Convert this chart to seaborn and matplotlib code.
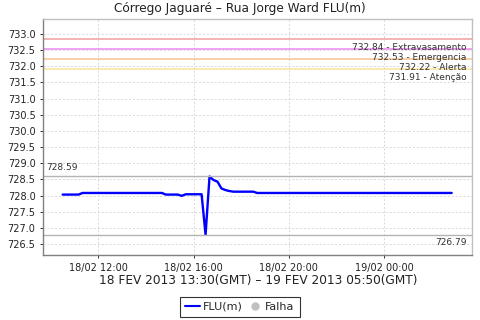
import matplotlib
matplotlib.use("Agg")
import matplotlib.pyplot as plt
from matplotlib.lines import Line2D
import pandas as pd
import seaborn as sns

# ---- data ----
start_time = "2013-02-18 10:30"
end_time = "2013-02-19 02:50"
flu_values = [
    728.03, 728.03, 728.03, 728.03, 728.03,
    728.08, 728.08, 728.08, 728.08, 728.08, 728.08, 728.08, 728.08, 728.08, 728.08,
    728.08, 728.08, 728.08, 728.08, 728.08, 728.08, 728.08, 728.08, 728.08, 728.08,
    728.08,
    728.03, 728.03, 728.03, 728.03,
    727.99,
    728.04, 728.04, 728.04, 728.04, 728.04,
    726.79,
    728.59,
    728.48, 728.43, 728.22, 728.17, 728.14, 728.12,
    728.12, 728.12, 728.12, 728.12, 728.12,
    728.08, 728.08, 728.08, 728.08, 728.08, 728.08, 728.08, 728.08, 728.08, 728.08,
    728.08, 728.08, 728.08, 728.08, 728.08, 728.08, 728.08, 728.08, 728.08, 728.08,
    728.08, 728.08, 728.08, 728.08, 728.08, 728.08, 728.08, 728.08, 728.08, 728.08,
    728.08, 728.08, 728.08, 728.08, 728.08, 728.08, 728.08, 728.08, 728.08, 728.08,
    728.08, 728.08, 728.08, 728.08, 728.08, 728.08, 728.08, 728.08, 728.08, 728.08,
]
threshold_values = [732.84, 732.53, 732.22, 731.91]
threshold_names = ["Extravasamento", "Emergencia", "Alerta", "Atenção"]
threshold_colors = ["#f39c9c", "#ee88f0", "#f7c48e", "#fbe39b"]
max_value = 728.59
min_value = 726.79
x_ticks = ["2013-02-18 12:00", "2013-02-18 16:00", "2013-02-18 20:00", "2013-02-19 00:00"]
x_tick_labels = ["18/02 12:00", "18/02 16:00", "18/02 20:00", "19/02 00:00"]
title = "Córrego Jaguaré – Rua Jorge Ward FLU(m)"
xlabel = "18 FEV 2013 13:30(GMT) – 19 FEV 2013 05:50(GMT)"

times = pd.date_range(start_time, end_time, freq="10min")
df = pd.DataFrame({"time": times, "FLU(m)": flu_values})

sns.set_style("white")
plt.rcParams["font.family"] = ["DejaVu Sans"]

fig = plt.figure(figsize=(4.8, 3.2), dpi=100)
ax = fig.add_axes([0.090, 0.203, 0.894, 0.737])

sns.lineplot(data=df, x="time", y="FLU(m)", ax=ax, color="#0000ff", linewidth=1.7)

ax.set_xlim(pd.Timestamp("2013-02-18 09:41"), pd.Timestamp("2013-02-19 03:42"))
ax.set_ylim(726.16, 733.455)
ax.set_yticks([726.5 + 0.5 * i for i in range(14)])
ax.set_yticklabels([f"{726.5 + 0.5 * i:.1f}" for i in range(14)])
ax.set_xticks([pd.Timestamp(t) for t in x_ticks])
ax.set_xticklabels(x_tick_labels)

ax.grid(True, color="#d8d8d8", linestyle=(0, (2, 2)), linewidth=0.7)
ax.set_axisbelow(True)

for v, n, c in zip(threshold_values, threshold_names, threshold_colors):
    ax.axhline(v, color=c, linewidth=1.1)
    ax.annotate(f"{v:.2f} - {n}", xy=(1, v), xycoords=("axes fraction", "data"),
                xytext=(-4, -2.8), textcoords="offset points", ha="right", va="top",
                fontsize=6.5, color="#333333")

ax.axhline(max_value, color="#b4b4b4", linewidth=1.0)
ax.axhline(min_value, color="#b4b4b4", linewidth=1.0)
ax.annotate(f"{max_value:.2f}", xy=(0, max_value), xycoords=("axes fraction", "data"),
            xytext=(2, 3), textcoords="offset points", ha="left", va="bottom",
            fontsize=6.5, color="#333333")
ax.annotate(f"{min_value:.2f}", xy=(1, min_value), xycoords=("axes fraction", "data"),
            xytext=(-4, -2.5), textcoords="offset points", ha="right", va="top",
            fontsize=6.5, color="#333333")

for s in ["left", "bottom"]:
    ax.spines[s].set_color("#808080")
    ax.spines[s].set_linewidth(1.0)
for s in ["top", "right"]:
    ax.spines[s].set_color("#c0c0c0")
    ax.spines[s].set_linewidth(1.0)

ax.tick_params(axis="both", labelsize=7, colors="#333333", length=2, width=0.7, direction="out",
               left=True, bottom=True)
ax.tick_params(axis="both", labelcolor="#222222")
ax.set_xlabel(xlabel, fontsize=8.7, color="#222222", labelpad=1)
ax.set_ylabel("")
fig.text(0.5, 0.972, title, fontsize=8.7, color="#222222", ha="center", va="center")

handles = [Line2D([0], [0], color="#0000ff", linewidth=1.5),
           Line2D([0], [0], marker="o", linestyle="none", markersize=5,
                  markerfacecolor="#c0c0c0", markeredgecolor="#c0c0c0")]
leg = fig.legend(handles, ["FLU(m)", "Falha"], loc="center", bbox_to_anchor=(0.5, 0.041),
                 ncol=2, fontsize=8, frameon=True, fancybox=False, handlelength=1.3,
                 handletextpad=0.3, columnspacing=0.4, borderpad=0.45, borderaxespad=0)
leg.get_frame().set_edgecolor("black")
leg.get_frame().set_linewidth(0.8)

fig.savefig("out.png", dpi=100)
